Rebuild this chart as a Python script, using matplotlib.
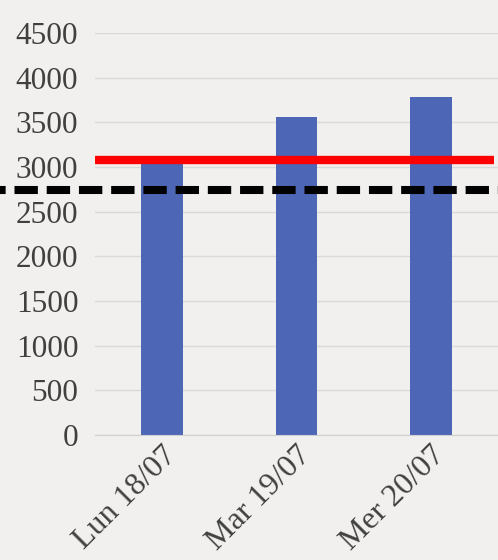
import matplotlib.pyplot as plt
from matplotlib.transforms import ScaledTranslation

# Data
days = ["Lun 18/07", "Mar 19/07", "Mer 20/07"]
values = [3045, 3560, 3785]
target = 3080  # red line
threshold = 2745  # black dashed line
yticks = [0, 500, 1000, 1500, 2000, 2500, 3000, 3500, 4000, 4500]

plt.rcParams["font.family"] = ["Liberation Serif", "DejaVu Serif"]

fig = plt.figure(figsize=(4.98, 5.6), dpi=100, facecolor="#f1f0ee")
ax = fig.add_axes([95 / 498, 1 - 435 / 560, 403 / 498, 402 / 560])
ax.set_facecolor("#f1f0ee")

x = list(range(len(days)))
ax.bar(x, values, width=0.31, color="#4d66b6", zorder=2)

# reference lines
ax.plot([-0.5, 2.47], [target, target], color="#ff0000", lw=6, zorder=3, solid_capstyle="butt")
ax.plot([-1.21, 2.5], [threshold, threshold], color="black", lw=5.8, ls=(2.2, (2.9, 1.1)),
        zorder=4, clip_on=False, dash_capstyle="butt")

ax.set_xlim(-0.5, 2.5)
ax.set_ylim(0, 4500)
ax.set_yticks(yticks)
ax.set_yticklabels([str(v) for v in yticks], fontsize=22.5, color="#404040")
ax.set_xticks(x)
ax.set_xticklabels(days, rotation=45, ha="right", rotation_mode="anchor",
                   fontsize=23, color="#404040")
shift = ScaledTranslation(-15 / 100, 0, fig.dpi_scale_trans)
for lab in ax.get_xticklabels():
    lab.set_transform(lab.get_transform() + shift)
ax.tick_params(length=0, pad=12)
ax.tick_params(axis="x", pad=4)
ax.grid(axis="y", color="#d9d9d9", lw=1, zorder=0)
for s in ["top", "right", "left"]:
    ax.spines[s].set_visible(False)
ax.spines["bottom"].set_color("#d0d0d0")

fig.savefig("out.png", dpi=100, facecolor=fig.get_facecolor())
